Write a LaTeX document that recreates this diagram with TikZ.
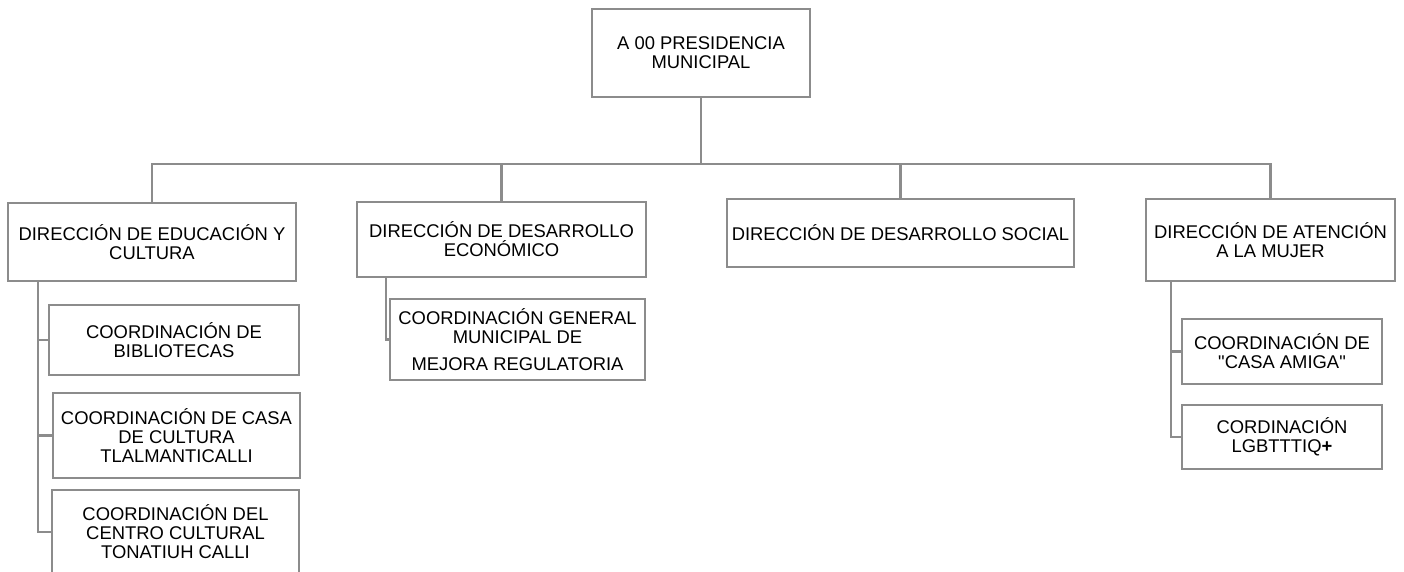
\documentclass[tikz,border=0pt]{standalone}
\usepackage{fontspec}
\newfontfamily\libsans{Liberation Sans}
\definecolor{linegray}{RGB}{140,140,140}
\tikzset{
  box/.style={draw=linegray, line width=2.6pt, fill=white, rectangle, inner sep=0pt,
    align=center, font=\libsans\fontsize{18.4}{19}\selectfont, text=black},
  conn/.style={draw=linegray, line width=2.8pt}
}
\begin{document}
\begin{tikzpicture}[x=1pt,y=-1pt]
\useasboundingbox (0,0) rectangle (1404,571);
\clip (0,0) rectangle (1404,571);
% top
\node[box, minimum width=218pt, minimum height=88pt] (top) at (701,53) {A 00 PRESIDENCIA\\MUNICIPAL};
% directions
\node[box, minimum width=288pt, minimum height=78pt] (edu) at (152,242) {DIRECCIÓN DE EDUCACIÓN Y\\CULTURA};
\node[box, minimum width=289pt, minimum height=75pt] (eco) at (501.5,239.5) {DIRECCIÓN DE DESARROLLO\\ECONÓMICO};
\node[box, minimum width=347pt, minimum height=68pt] (soc) at (900.5,233) {DIRECCIÓN DE DESARROLLO SOCIAL};
\node[box, minimum width=249pt, minimum height=82pt] (muj) at (1270.5,240) {DIRECCIÓN DE ATENCIÓN\\A LA MUJER};
% coordinations
\node[box, minimum width=250pt, minimum height=70pt] (bib) at (174,340) {COORDINACIÓN DE\\BIBLIOTECAS};
\node[box, minimum width=247pt, minimum height=85pt] (casa) at (176.5,435.5) {COORDINACIÓN DE CASA\\DE CULTURA\\TLALMANTICALLI};
\node[box, minimum width=247pt, minimum height=84pt] (centro) at (175.5,532) {COORDINACIÓN DEL\\CENTRO CULTURAL\\TONATIUH CALLI};
\node[box, minimum width=255pt, minimum height=81pt] (mejora) at (517.5,339.5) {COORDINACIÓN GENERAL\\MUNICIPAL DE\\[8pt]MEJORA REGULATORIA};
\node[box, minimum width=200pt, minimum height=65pt] (amiga) at (1282,351.5) {COORDINACIÓN DE\\"CASA AMIGA"};
\node[box, minimum width=200pt, minimum height=64pt] (lgbt) at (1282,437) {CORDINACIÓN\\LGBTTTIQ\textbf{+}};
% connectors
\coordinate (bus) at (701,164);
\coordinate (e0) at (38,281);
\coordinate (c0) at (386,277);
\coordinate (m0) at (1171,281);
\draw[conn] (top.south) -- (bus);
\draw[conn] (edu.north) |- (bus);
\draw[conn] (eco.north) |- (bus);
\draw[conn] (soc.north) |- (bus);
\draw[conn] (muj.north) |- (bus);
\draw[conn] (e0) |- (bib.west);
\draw[conn] (e0) |- (casa.west);
\draw[conn] (e0) |- (centro.west);
\draw[conn] (c0) |- (mejora.west);
\draw[conn] (m0) |- (amiga.west);
\draw[conn] (m0) |- (lgbt.west);
\end{tikzpicture}
\end{document}
